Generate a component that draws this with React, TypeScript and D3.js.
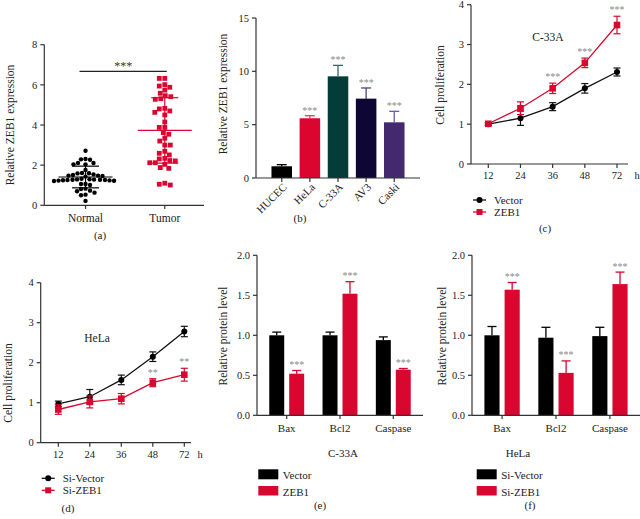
import React from "react";
import * as d3 from "d3";

// ---------------- DATA ----------------
// (a) scatter
const scatterGroups = ["Normal", "Tumor"];
const normalValues = [2.72, 2.27, 2.31, 2.29, 2.11, 2.04, 2.04, 2.11, 1.76, 1.61, 1.6, 1.51, 1.46, 1.54, 1.48, 1.43, 1.48, 1.59,
  1.26, 1.27, 1.24, 1.25, 1.23, 1.21, 1.22, 1.28, 1.27, 1.29, 1.3, 1.32, 1.26, 1.06, 1.01, 1.06, 0.83, 0.73, 0.7, 0.81, 0.63, 0.53, 0.5, 0.22];
const tumorValues = [6.32, 6.32, 5.94, 5.88, 6.01, 5.74, 5.46, 5.28, 5.31, 5.41, 5.58, 4.7, 4.83, 4.8, 4.63, 4.5, 4.15, 3.88, 3.88,
  3.54, 3.62, 3.34, 3.2, 3.0, 3.0, 2.59, 2.51, 2.69, 2.31, 2.21, 2.12, 2.12, 2.04, 2.23, 2.34, 1.88, 1.84, 1.1, 1.01, 1.05];
const scatterMean = [1.41, 3.73];
const scatterSD = [0.54, 1.63];
const scatterTicks = [0, 2, 4, 6, 8];

// (b) bars
const cellLines = ["HUCEC", "HeLa", "C-33A", "AV3", "Caski"];
const zeb1Expr = [1.1, 5.6, 9.53, 7.44, 5.22];
const zeb1ExprErr = [0.15, 0.24, 1.03, 1.0, 1.03];
const zeb1ExprSig = ["", "***", "***", "***", "***"];
const exprTicks = [0, 5, 10, 15];

// (c) (d) proliferation
const hours = ["12", "24", "36", "48", "72"];
const prolTicks = [0, 1, 2, 3, 4];
const c33aVector = [1.0, 1.15, 1.44, 1.9, 2.31];
const c33aVectorErr = [0.03, 0.18, 0.1, 0.12, 0.1];
const c33aZeb1 = [1.01, 1.4, 1.9, 2.54, 3.49];
const c33aZeb1Err = [0.03, 0.16, 0.13, 0.12, 0.22];
const c33aSig = ["", "", "***", "***", "***"];
const helaSiVector = [0.97, 1.15, 1.57, 2.15, 2.78];
const helaSiVectorErr = [0.07, 0.18, 0.12, 0.12, 0.13];
const helaSiZeb1 = [0.83, 1.02, 1.1, 1.5, 1.7];
const helaSiZeb1Err = [0.12, 0.15, 0.13, 0.1, 0.16];
const helaSig = ["", "", "", "**", "**"];

// (e) (f) proteins
const proteins = ["Bax", "Bcl2", "Caspase"];
const proteinTicks = [0, 0.5, 1, 1.5, 2];
const c33aProtVector = [1.0, 1.0, 0.94];
const c33aProtVectorErr = [0.04, 0.04, 0.04];
const c33aProtZeb1 = [0.52, 1.52, 0.57];
const c33aProtZeb1Err = [0.04, 0.15, 0.015];
const c33aProtSig = ["***", "***", "***"];
const helaProtSiVector = [1.0, 0.97, 0.99];
const helaProtSiVectorErr = [0.11, 0.13, 0.11];
const helaProtSiZeb1 = [1.57, 0.53, 1.64];
const helaProtSiZeb1Err = [0.09, 0.15, 0.15];
const helaProtSig = ["***", "***", "***"];

// ---------------- STYLE ----------------
const FONT = "'Liberation Serif', 'Times New Roman', serif";
const RED = "#d9062f";
const AXIS = "#333";
const STAR = "#8a8a8a";
const TXT = "#222";
const barColors = ["#000000", "#dc0530", "#033c39", "#0f0733", "#45296f"];
const barErrColors = ["#000000", "#e0405a", "#2f6a64", "#4c4275", "#6f5aa0"];

type Lin = d3.ScaleLinear<number, number>;

function YAxis({ scale, x, ticks, fmt }: { scale: Lin; x: number; ticks: number[]; fmt: (v: number) => string }) {
  const [y0, y1] = scale.range();
  return (
    <g>
      <line x1={x} x2={x} y1={y0} y2={y1} stroke={AXIS} strokeWidth={1.2} />
      {ticks.map((t) => (
        <g key={t}>
          <line x1={x - 4} x2={x} y1={scale(t)} y2={scale(t)} stroke={AXIS} strokeWidth={1.2} />
          <text x={x - 7} y={scale(t)} dy="0.35em" textAnchor="end" fontSize={10.5} fontFamily={FONT} fill={TXT}>
            {fmt(t)}
          </text>
        </g>
      ))}
    </g>
  );
}

function YTitle({ x, y, text }: { x: number; y: number; text: string }) {
  return (
    <g transform={`translate(${x},${y})`}>
      <g transform="rotate(-90)">
        <text x={0} y={0} textAnchor="middle" dy="0.35em" fontSize={11.5} fontFamily={FONT} fill={TXT}>
          {text}
        </text>
      </g>
    </g>
  );
}

function Label({ x, y, text, size = 11, fill = TXT, anchor = "middle" }: any) {
  return (
    <text x={x} y={y} textAnchor={anchor} fontSize={size} fontFamily={FONT} fill={fill}>
      {text}
    </text>
  );
}

function swarm(values: number[], y: (v: number) => number, minDist: number) {
  const idx = values.map((_, i) => i).sort((a, b) => values[b] - values[a]);
  const placed: { x: number; y: number }[] = [];
  const out: { dx: number; y: number }[] = new Array(values.length);
  for (const i of idx) {
    const yy = y(values[i]);
    let dx = 0;
    for (let k = 0; k < 600; k++) {
      const cand = (k % 2 === 1 ? -1 : 1) * Math.ceil(k / 2) * 0.5;
      if (placed.every((p) => (p.x - cand) ** 2 + (p.y - yy) ** 2 >= minDist * minDist)) {
        dx = cand;
        break;
      }
    }
    placed.push({ x: dx, y: yy });
    out[i] = { dx, y: yy };
  }
  return out;
}

function PanelA() {
  const y = d3.scaleLinear().domain([0, 8]).range([205.3, 44.7]);
  const x = d3.scalePoint<string>().domain(scatterGroups).range([44.3, 206]).padding(0.52);
  const nx = x("Normal")!;
  const tx = x("Tumor")!;
  const nPts = swarm(normalValues, y, 4.5);
  const tPts = swarm(tumorValues, y, 5.4);
  const summary = (cx: number, i: number, color: string) => (
    <g stroke={color} strokeWidth={1.2}>
      <line x1={cx - 27} x2={cx + 27} y1={y(scatterMean[i])} y2={y(scatterMean[i])} />
      <line x1={cx} x2={cx} y1={y(scatterMean[i] - scatterSD[i])} y2={y(scatterMean[i] + scatterSD[i])} />
      <line x1={cx - 13.5} x2={cx + 13.5} y1={y(scatterMean[i] + scatterSD[i])} y2={y(scatterMean[i] + scatterSD[i])} />
      <line x1={cx - 13.5} x2={cx + 13.5} y1={y(scatterMean[i] - scatterSD[i])} y2={y(scatterMean[i] - scatterSD[i])} />
    </g>
  );
  return (
    <g>
      <YAxis scale={y} x={44.3} ticks={scatterTicks} fmt={(v) => String(v)} />
      <line x1={44.3} x2={204} y1={205.3} y2={205.3} stroke={AXIS} strokeWidth={1.2} />
      {scatterGroups.map((g) => (
        <g key={g}>
          <line x1={x(g)} x2={x(g)} y1={205.3} y2={209} stroke={AXIS} strokeWidth={1.2} />
          <Label x={x(g)} y={222} text={g} size={11.5} />
        </g>
      ))}
      {nPts.map((p, i) => (
        <circle key={"n" + i} cx={nx + p.dx} cy={p.y} r={2.2} fill="#000" />
      ))}
      {tPts.map((p, i) => (
        <rect key={"t" + i} x={tx + p.dx - 2.4} y={p.y - 2.4} width={4.8} height={4.8} fill={RED} />
      ))}
      {summary(nx, 0, "#000")}
      {summary(tx, 1, RED)}
      <line x1={nx - 6} x2={tx + 2} y1={71.3} y2={71.3} stroke="#222" strokeWidth={1.2} />
      <Label x={(nx + tx) / 2 - 2} y={70} text="***" size={12} fill="#333" />
      <YTitle x={10} y={125} text="Relative ZEB1 expression" />
      <Label x={100} y={239} text="(a)" size={11} />
    </g>
  );
}

function PanelB() {
  const y = d3.scaleLinear().domain([0, 15]).range([178, 18]);
  const x = d3.scaleBand<string>().domain(cellLines).range([256, 420]).paddingInner(0.27).paddingOuter(0.55);
  const bw = x.bandwidth();
  return (
    <g>
      {cellLines.map((c, i) => {
        const cx = x(c)! + bw / 2;
        const top = y(zeb1Expr[i] + zeb1ExprErr[i]);
        return (
          <g key={c}>
            <line x1={cx} x2={cx} y1={y(zeb1Expr[i])} y2={top} stroke={barErrColors[i]} strokeWidth={1.3} />
            <line x1={cx - 5} x2={cx + 5} y1={top} y2={top} stroke={barErrColors[i]} strokeWidth={1.3} />
            <rect x={x(c)} y={y(zeb1Expr[i])} width={bw} height={y(0) - y(zeb1Expr[i])} fill={barColors[i]} />
            {zeb1ExprSig[i] && <Label x={cx} y={top - 2} text={zeb1ExprSig[i]} size={10} fill={STAR} />}
            <line x1={cx} x2={cx} y1={178} y2={182} stroke={AXIS} strokeWidth={1.2} />
            <g style={{ transform: `translate(${cx + 3}px, 185px) rotate(-45deg)` }}>
              <text x={0} y={0} textAnchor="end" dy="0.35em" fontSize={11} fontFamily={FONT} fill={TXT}>
                {c}
              </text>
            </g>
          </g>
        );
      })}
      <YAxis scale={y} x={256} ticks={exprTicks} fmt={(v) => String(v)} />
      <line x1={256} x2={420} y1={178} y2={178} stroke={AXIS} strokeWidth={1.2} />
      <YTitle x={223} y={94} text="Relative ZEB1 expression" />
      <Label x={300} y={222} text="(b)" size={11} />
    </g>
  );
}

function LinePanel(props: {
  ax: number; y0: number; y1: number; xr: [number, number]; axEnd: number;
  a: number[]; aErr: number[]; b: number[]; bErr: number[]; sig: string[];
  title: string; titleX: number; titleY: number; yTitleX: number; yTitleY: number;
  legA: string; legB: string; legX: number; legY: number; tag: string; tagX: number; tagY: number;
}) {
  const p = props;
  const y = d3.scaleLinear().domain([0, 4]).range([p.y0, p.y1]);
  const x = d3.scalePoint<string>().domain(hours).range(p.xr);
  const line = d3.line<number>().x((_, i) => x(hours[i])!).y((v) => y(v));
  const errs = (vals: number[], err: number[], color: string) =>
    vals.map((v, i) => {
      const cx = x(hours[i])!;
      return (
        <g key={i} stroke={color} strokeWidth={1.2}>
          <line x1={cx} x2={cx} y1={y(v - err[i])} y2={y(v + err[i])} />
          <line x1={cx - 3.5} x2={cx + 3.5} y1={y(v - err[i])} y2={y(v - err[i])} />
          <line x1={cx - 3.5} x2={cx + 3.5} y1={y(v + err[i])} y2={y(v + err[i])} />
        </g>
      );
    });
  return (
    <g>
      <YAxis scale={y} x={p.ax} ticks={prolTicks} fmt={(v) => String(v)} />
      <line x1={p.ax} x2={p.axEnd} y1={p.y0} y2={p.y0} stroke={AXIS} strokeWidth={1.2} />
      {hours.map((h) => (
        <g key={h}>
          <line x1={x(h)} x2={x(h)} y1={p.y0} y2={p.y0 + 4} stroke={AXIS} strokeWidth={1.2} />
          <Label x={x(h)} y={p.y0 + 15} text={h} size={10.5} />
        </g>
      ))}
      <Label x={p.axEnd + 6.5} y={p.y0 + 15} text="h" size={10.5} anchor="start" />
      {errs(p.a, p.aErr, "#111")}
      <path d={line(p.a)!} fill="none" stroke="#111" strokeWidth={1.3} />
      {p.a.map((v, i) => (
        <circle key={i} cx={x(hours[i])} cy={y(v)} r={3} fill="#000" />
      ))}
      {errs(p.b, p.bErr, RED)}
      <path d={line(p.b)!} fill="none" stroke={RED} strokeWidth={1.3} />
      {p.b.map((v, i) => (
        <rect key={i} x={x(hours[i])! - 3.3} y={y(v) - 3.3} width={6.6} height={6.6} fill={RED} />
      ))}
      {p.sig.map((s, i) =>
        s ? <Label key={i} x={x(hours[i])} y={y(p.b[i] + p.bErr[i]) - 3} text={s} size={10} fill={STAR} /> : null
      )}
      <Label x={p.titleX} y={p.titleY} text={p.title} size={11.5} />
      <YTitle x={p.yTitleX} y={p.yTitleY} text="Cell proliferation" />
      <g>
        <line x1={p.legX} x2={p.legX + 13} y1={p.legY} y2={p.legY} stroke="#111" strokeWidth={1.3} />
        <circle cx={p.legX + 6.5} cy={p.legY} r={3} fill="#000" />
        <Label x={p.legX + 21} y={p.legY + 4} text={p.legA} anchor="start" />
        <line x1={p.legX} x2={p.legX + 13} y1={p.legY + 12} y2={p.legY + 12} stroke={RED} strokeWidth={1.3} />
        <rect x={p.legX + 3.5} y={p.legY + 9} width={6} height={6} fill={RED} />
        <Label x={p.legX + 21} y={p.legY + 16} text={p.legB} anchor="start" />
      </g>
      <Label x={p.tagX} y={p.tagY} text={p.tag} size={11} />
    </g>
  );
}

function ProteinPanel(props: {
  ax: number; axEnd: number; a: number[]; aErr: number[]; b: number[]; bErr: number[]; sig: string[];
  cell: string; cellX: number; yTitleX: number; legA: string; legB: string; legX: number; tag: string; tagX: number;
}) {
  const p = props;
  const y = d3.scaleLinear().domain([0, 2]).range([415.3, 255.3]);
  const x = d3.scaleBand<string>().domain(proteins).range([p.ax, p.axEnd]).paddingInner(0.345).paddingOuter(0.23);
  const sub = d3.scaleBand<string>().domain(["a", "b"]).range([0, x.bandwidth()]).paddingInner(0.25);
  const bars = (vals: number[], err: number[], key: string, color: string) =>
    vals.map((v, i) => {
      const bx = x(proteins[i])! + sub(key)!;
      const cx = bx + sub.bandwidth() / 2;
      const top = y(v + err[i]);
      return (
        <g key={key + i}>
          <line x1={cx} x2={cx} y1={y(v)} y2={top} stroke={color} strokeWidth={1.3} />
          <line x1={cx - 4.5} x2={cx + 4.5} y1={top} y2={top} stroke={color} strokeWidth={1.3} />
          <rect x={bx} y={y(v)} width={sub.bandwidth()} height={y(0) - y(v)} fill={color} />
          {key === "b" && p.sig[i] ? <Label x={cx} y={top - 2.5} text={p.sig[i]} size={10} fill={STAR} /> : null}
        </g>
      );
    });
  return (
    <g>
      {bars(p.a, p.aErr, "a", "#000")}
      {bars(p.b, p.bErr, "b", RED)}
      <YAxis scale={y} x={p.ax} ticks={proteinTicks} fmt={d3.format(".1f")} />
      <line x1={p.ax} x2={p.axEnd} y1={415.3} y2={415.3} stroke={AXIS} strokeWidth={1.2} />
      {proteins.map((c) => (
        <g key={c}>
          <line x1={x(c)! + x.bandwidth() / 2} x2={x(c)! + x.bandwidth() / 2} y1={415.3} y2={419} stroke={AXIS} strokeWidth={1.2} />
          <Label x={x(c)! + x.bandwidth() / 2} y={432} text={c} />
        </g>
      ))}
      <Label x={p.cellX} y={457} text={p.cell} />
      <YTitle x={p.yTitleX} y={336} text="Relative protein level" />
      <rect x={p.legX} y={469.3} width={20} height={10} fill="#000" />
      <Label x={p.legX + 24.5} y={478.5} text={p.legA} anchor="start" />
      <rect x={p.legX} y={486} width={20} height={9.5} fill={RED} />
      <Label x={p.legX + 24.5} y={495.5} text={p.legB} anchor="start" />
      <Label x={p.tagX} y={509} text={p.tag} />
    </g>
  );
}

export default function App() {
  return (
    <svg width={640} height={519} viewBox="0 0 640 519" style={{ position: "absolute", left: 0, top: 0, background: "#fff" }}>
      <rect width={640} height={519} fill="#fff" />
      <PanelA />
      <PanelB />
      <LinePanel
        ax={471} y0={164} y1={4.7} xr={[488.3, 617]} axEnd={628}
        a={c33aVector} aErr={c33aVectorErr} b={c33aZeb1} bErr={c33aZeb1Err} sig={c33aSig}
        title="C-33A" titleX={548} titleY={40.5} yTitleX={440} yTitleY={85}
        legA="Vector" legB="ZEB1" legX={473} legY={200} tag="(c)" tagX={545} tagY={232}
      />
      <LinePanel
        ax={40.7} y0={442.7} y1={282.7} xr={[58.3, 184.3]} axEnd={191}
        a={helaSiVector} aErr={helaSiVectorErr} b={helaSiZeb1} bErr={helaSiZeb1Err} sig={helaSig}
        title="HeLa" titleX={97} titleY={342} yTitleX={8} yTitleY={383}
        legA="Si-Vector" legB="Si-ZEB1" legX={41.7} legY={478.3} tag="(d)" tagX={68} tagY={512}
      />
      <ProteinPanel
        ax={257} axEnd={423} a={c33aProtVector} aErr={c33aProtVectorErr} b={c33aProtZeb1} bErr={c33aProtZeb1Err} sig={c33aProtSig}
        cell="C-33A" cellX={343} yTitleX={223} legA="Vector" legB="ZEB1" legX={258.3} tag="(e)" tagX={320}
      />
      <ProteinPanel
        ax={472} axEnd={640} a={helaProtSiVector} aErr={helaProtSiVectorErr} b={helaProtSiZeb1} bErr={helaProtSiZeb1Err} sig={helaProtSig}
        cell="HeLa" cellX={518} yTitleX={442} legA="Si-Vector" legB="Si-ZEB1" legX={476.7} tag="(f)" tagX={530}
      />
    </svg>
  );
}
